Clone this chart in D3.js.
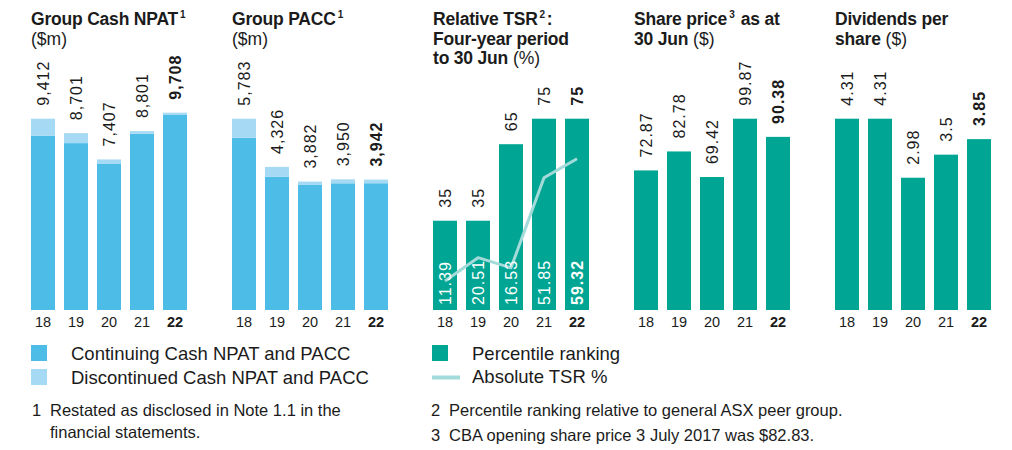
<!DOCTYPE html>
<html>
<head>
<meta charset="utf-8">
<script src="https://cdn.jsdelivr.net/npm/d3@7"></script>
<style>
  body { margin: 0; background: #ffffff; }
  svg { display: block; font-family: "Liberation Sans", Arial, sans-serif; }
</style>
</head>
<body>
<svg id="chart" width="1012" height="450"></svg>
<script>
// ---- data -------------------------------------------------------------
const years = ["18", "19", "20", "21", "22"];

const cashNpatTotal        = [9412, 8701, 7407, 8801, 9708];
const cashNpatDiscontinued = [840, 490, 200, 130, 113];

const paccTotal        = [5783, 4326, 3882, 3950, 3942];
const paccDiscontinued = [575, 300, 90, 120, 110];

const tsrPercentile = [35, 35, 65, 75, 75];
const absoluteTsr   = [11.39, 20.51, 16.53, 51.85, 59.32];

const sharePrice = [72.87, 82.78, 69.42, 99.87, 90.38];
const dividends  = [4.31, 4.31, 2.98, 3.5, 3.85];

// value that reaches the top of each panel's plot area
const scaleMax = [9412, 5783, 75, 99.87, 4.31];

// ---- style ------------------------------------------------------------
const BLUE = "#4dbde8";
const BLUE_LIGHT = "#a5d9f4";
const TEAL = "#00a693";
const TEAL_LINE = "#a3dada";
const INK = "#1b1b1b";

const svg = d3.select("#chart");

const baseY = 310;
const topY = 118.7;
const panelLeft = i => 31 + i * 201;

const x = d3.scaleBand()
  .domain(years)
  .range([0, 156])
  .paddingInner(0.273)
  .paddingOuter(0);

const fmtComma = d3.format(",");

const panels = [
  {
    title: [
      [{t: "Group Cash NPAT", b: true}, {sup: "1"}],
      [{t: "($m)", b: false}]
    ],
    stacked: true,
    totals: cashNpatTotal,
    discontinued: cashNpatDiscontinued,
    fmt: v => fmtComma(v)
  },
  {
    title: [
      [{t: "Group PACC", b: true}, {sup: "1"}],
      [{t: "($m)", b: false}]
    ],
    stacked: true,
    totals: paccTotal,
    discontinued: paccDiscontinued,
    fmt: v => fmtComma(v)
  },
  {
    title: [
      [{t: "Relative TSR", b: true}, {sup: "2"}, {t: ":", b: true}],
      [{t: "Four-year period", b: true}],
      [{t: "to 30 Jun", b: true}, {t: " (%)", b: false}]
    ],
    stacked: false,
    totals: tsrPercentile,
    line: absoluteTsr,
    fmt: v => String(v)
  },
  {
    title: [
      [{t: "Share price", b: true}, {sup: "3"}, {t: " as at", b: true}],
      [{t: "30 Jun", b: true}, {t: " ($)", b: false}]
    ],
    stacked: false,
    totals: sharePrice,
    fmt: v => String(v)
  },
  {
    title: [
      [{t: "Dividends per", b: true}],
      [{t: "share", b: true}, {t: " ($)", b: false}]
    ],
    stacked: false,
    totals: dividends,
    fmt: v => String(v)
  }
];

const titleBaselines = [25, 44.5, 64];

panels.forEach((p, i) => {
  const g = svg.append("g").attr("transform", `translate(${panelLeft(i)},0)`);
  const y = d3.scaleLinear().domain([0, scaleMax[i]]).range([baseY, topY]);

  // title
  p.title.forEach((line, li) => {
    const t = g.append("text")
      .attr("x", 0)
      .attr("y", titleBaselines[li])
      .attr("fill", INK)
      .attr("font-size", 17.5);
    line.forEach(seg => {
      if (seg.sup) {
        t.append("tspan")
          .attr("font-size", 10)
          .attr("font-weight", 700)
          .attr("dx", 2)
          .attr("dy", -7)
          .text(seg.sup);
        t.append("tspan").attr("dy", 7).attr("font-size", 17.5).text("\u200A");
      } else {
        t.append("tspan")
          .attr("font-weight", seg.b ? 700 : 400)
          .attr("letter-spacing", seg.b ? -0.2 : 0)
          .text(seg.t);
      }
    });
  });

  const rows = years.map((yr, k) => ({
    yr, k,
    total: p.totals[k],
    disc: p.stacked ? p.discontinued[k] : 0,
    last: k === years.length - 1
  }));

  // bars
  if (p.stacked) {
    g.selectAll("rect.cont").data(rows).join("rect")
      .attr("class", "cont")
      .attr("x", d => x(d.yr))
      .attr("width", x.bandwidth())
      .attr("y", d => y(d.total - d.disc))
      .attr("height", d => baseY - y(d.total - d.disc))
      .attr("fill", BLUE);
    g.selectAll("rect.disc").data(rows).join("rect")
      .attr("class", "disc")
      .attr("x", d => x(d.yr))
      .attr("width", x.bandwidth())
      .attr("y", d => y(d.total))
      .attr("height", d => y(d.total - d.disc) - y(d.total))
      .attr("fill", BLUE_LIGHT);
  } else {
    g.selectAll("rect.bar").data(rows).join("rect")
      .attr("class", "bar")
      .attr("x", d => x(d.yr))
      .attr("width", x.bandwidth())
      .attr("y", d => y(d.total))
      .attr("height", d => baseY - y(d.total))
      .attr("fill", TEAL);
  }

  const cx = d => x(d.yr) + x.bandwidth() / 2;

  // absolute TSR line with in-bar labels
  if (p.line) {
    const pts = rows.map(d => [cx(d), y(p.line[d.k])]);
    g.append("path")
      .attr("d", d3.line()(pts))
      .attr("fill", "none")
      .attr("stroke", TEAL_LINE)
      .attr("stroke-width", 3)
      .attr("stroke-linejoin", "round");

    g.selectAll("text.inner").data(rows).join("text")
      .attr("class", "inner")
      .attr("transform", d => `translate(${cx(d)},${baseY - 5}) rotate(-90)`)
      .attr("dy", "0.36em")
      .attr("font-size", 16)
      .attr("letter-spacing", 1)
      .attr("font-weight", d => d.last ? 700 : 400)
      .attr("fill", "#ffffff")
      .text(d => String(p.line[d.k]));
  }

  // value labels above bars
  g.selectAll("text.val").data(rows).join("text")
    .attr("class", "val")
    .attr("transform", d => `translate(${cx(d)},${y(d.total) - 13}) rotate(-90)`)
    .attr("dy", "0.36em")
    .attr("font-size", 16)
    .attr("letter-spacing", 1)
    .attr("font-weight", d => d.last ? 700 : 400)
    .attr("fill", INK)
    .text(d => p.fmt(d.total));

  // year axis labels
  const axis = d3.axisBottom(x).tickSize(0).tickPadding(0);
  const ax = g.append("g").attr("transform", `translate(0,${baseY})`).call(axis);
  ax.select(".domain").remove();
  ax.selectAll(".tick text")
    .attr("y", 17)
    .attr("dy", 0)
    .attr("font-size", 14.5)
    .attr("font-family", "Liberation Sans, Arial, sans-serif")
    .attr("fill", INK)
    .attr("font-weight", d => d === years[years.length - 1] ? 700 : 400);
});

// ---- legends ----------------------------------------------------------
const legendLeft = [
  {label: "Continuing Cash NPAT and PACC", color: BLUE},
  {label: "Discontinued Cash NPAT and PACC", color: BLUE_LIGHT}
];
legendLeft.forEach((d, k) => {
  const yy = 345 + k * 24;
  svg.append("rect").attr("x", 31).attr("y", yy).attr("width", 16).attr("height", 16).attr("fill", d.color);
  svg.append("text").attr("x", 71).attr("y", yy + 15).attr("font-size", 18.5).attr("fill", INK).text(d.label);
});

svg.append("rect").attr("x", 432).attr("y", 345).attr("width", 16).attr("height", 16).attr("fill", TEAL);
svg.append("text").attr("x", 472).attr("y", 360).attr("font-size", 18.5).attr("fill", INK).text("Percentile ranking");
svg.append("line").attr("x1", 432).attr("x2", 460).attr("y1", 377.5).attr("y2", 377.5)
  .attr("stroke", TEAL_LINE).attr("stroke-width", 4);
svg.append("text").attr("x", 472).attr("y", 383).attr("font-size", 18.5).attr("fill", INK).text("Absolute TSR %");

// ---- footnotes --------------------------------------------------------
const notes = [
  {n: "1", lines: ["Restated as disclosed in Note 1.1 in the", "financial statements."], x: 32, y: 416, dy: 22},
  {n: "2", lines: ["Percentile ranking relative to general ASX peer group."], x: 431, y: 416, dy: 22},
  {n: "3", lines: ["CBA opening share price 3 July 2017 was $82.83."], x: 431, y: 441, dy: 22}
];
notes.forEach(nt => {
  svg.append("text").attr("x", nt.x).attr("y", nt.y).attr("font-size", 16.5).attr("fill", INK).text(nt.n);
  nt.lines.forEach((ln, k) => {
    svg.append("text").attr("x", nt.x + 18).attr("y", nt.y + k * nt.dy)
      .attr("font-size", 16.5).attr("fill", INK).text(ln);
  });
});
</script>
</body>
</html>
